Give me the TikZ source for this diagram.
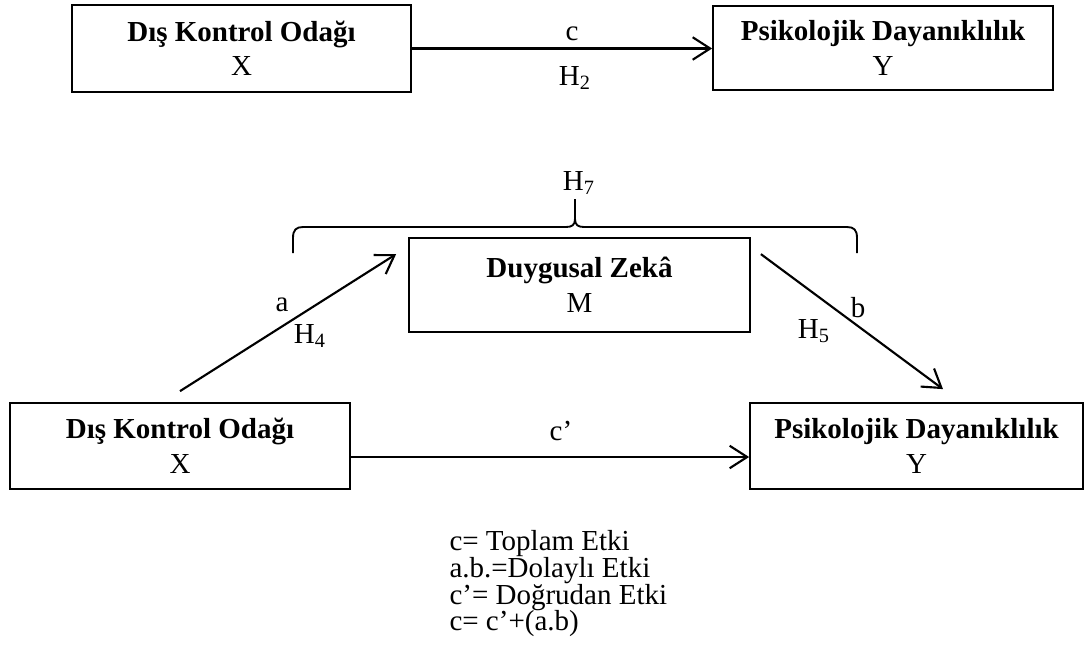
\documentclass[tikz,border=0pt]{standalone}
\usepackage{fontspec}
\setmainfont{Liberation Serif}
\usetikzlibrary{arrows.meta}
\newcommand{\boxfont}{\fontsize{11.6}{13.8}\selectfont}
\newcommand{\normfont}{\fontsize{11.6}{10.68}\selectfont}
\tikzset{
  box/.style={draw, line width=0.7pt, align=center, inner sep=0pt, font=\boxfont},
  lbl/.style={inner sep=0pt, font=\normfont},
  arr/.style={-{Straight Barb[length=7pt,width=9pt]}, line width=0.85pt},
  bracepath/.style={line width=0.75pt}
}
\begin{document}
\begin{tikzpicture}[x=0.4pt,y=-0.4pt]
\useasboundingbox (0,0) rectangle (1085,659);
% top row
\node[box, minimum width=135.6pt, minimum height=34.8pt] (tl) at (241.5,48.5) {\textbf{Dış Kontrol Odağı}\\X};
\node[box, minimum width=136pt, minimum height=33.6pt] (tr) at (883,48) {\textbf{Psikolojik Dayanıklılık}\\Y};
\draw[arr] (tl.east) -- (tl.east -| tr.west);
\node[lbl] (c) at (572,34) {c};
\node[lbl] (h2) at (575,78) {H\textsubscript{2}};
% mediator
\node[box, minimum width=136.4pt, minimum height=37.6pt] (m) at (579.5,285) {\textbf{Duygusal Zekâ}\\M};
% bottom row
\node[box, minimum width=136pt, minimum height=34.4pt] (bl) at (180,446) {\textbf{Dış Kontrol Odağı}\\X};
\node[box, minimum width=133.2pt, minimum height=34.4pt] (br) at (916.5,446) {\textbf{Psikolojik Dayanıklılık}\\Y};
\draw[arr] ([yshift=-4.4pt]bl.east) -- ([yshift=-4.4pt]br.west);
\node[lbl] (cp) at (561,431) {c’};
% diagonal paths
\draw[arr] ([yshift=4.4pt]bl.north) -- ([xshift=-4.8pt,yshift=-6.8pt]m.north west);
\draw[arr] ([xshift=4pt,yshift=-6.8pt]m.north east) -- ([xshift=10.6pt,yshift=5.2pt]br.north);
\node[lbl] (a) at (282,305) {a};
\node[lbl] (h4) at (310,336) {H\textsubscript{4}};
\node[lbl] (b) at (858,308) {b};
\node[lbl] (h5) at (814,331) {H\textsubscript{5}};
% brace
\coordinate (brl) at (293,253);
\coordinate (brr) at (857,253);
\coordinate (brt) at (575,199);
\draw[bracepath] (brl) -- (293,238) .. controls (293,230) and (296,227) .. (303,227)
  -- (566,227) .. controls (572,227) and (575,225) .. (575,219) -- (brt);
\draw[bracepath] (brr) -- (857,238) .. controls (857,230) and (854,227) .. (847,227)
  -- (584,227) .. controls (578,227) and (575,225) .. (575,219);
\node[lbl] (h7) at (579,183) {H\textsubscript{7}};
% notes
\node[lbl, anchor=north west, align=left] (notes) at (449,530) {c= Toplam Etki\\a.b.=Dolaylı Etki\\c’= Doğrudan Etki\\c= c’+(a.b)};
\end{tikzpicture}
\end{document}
